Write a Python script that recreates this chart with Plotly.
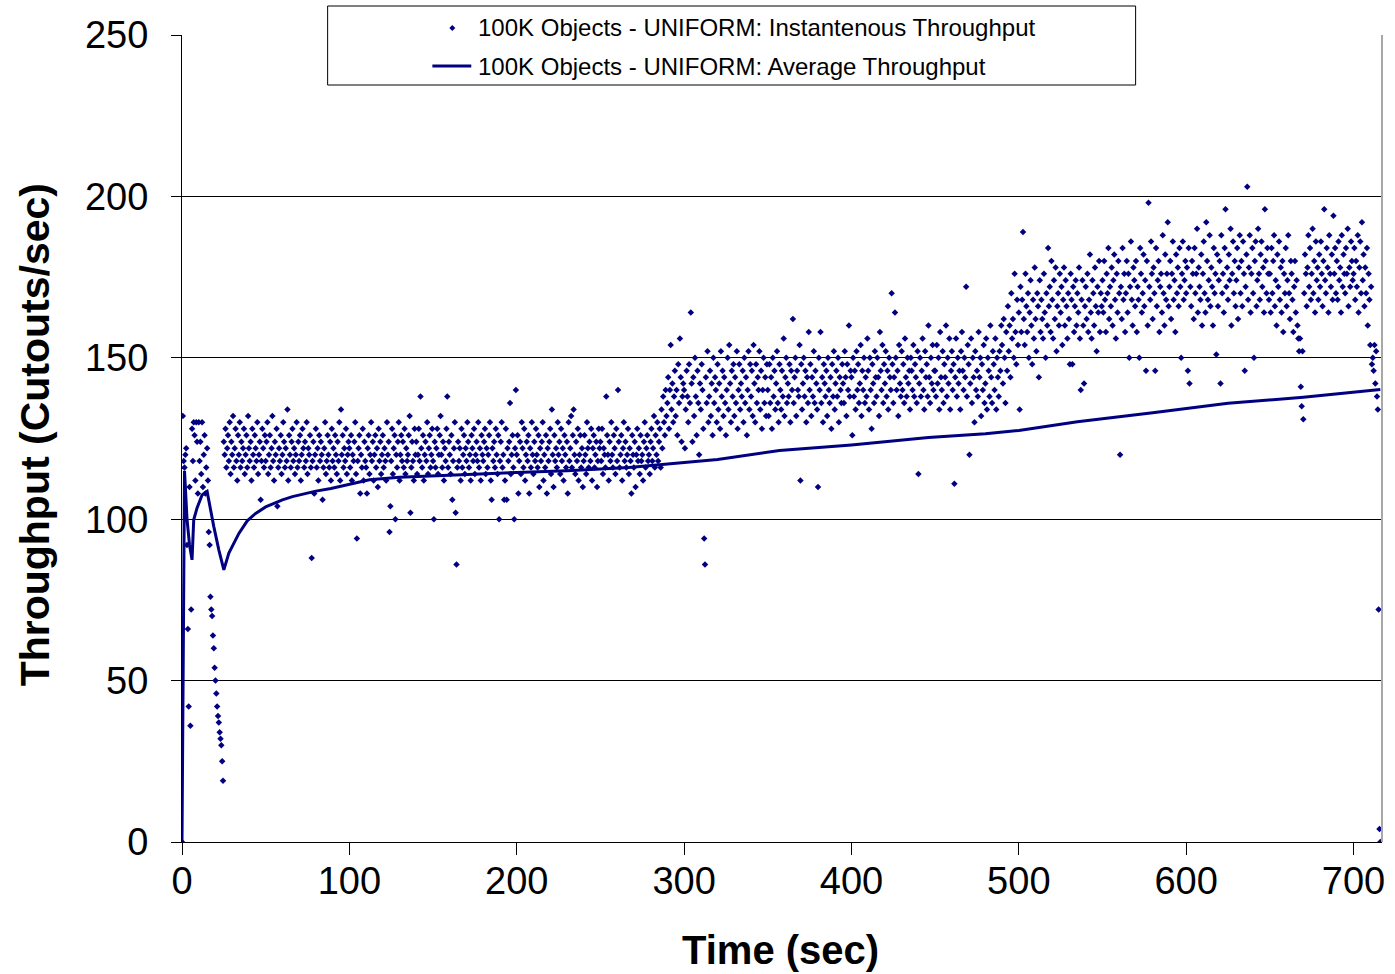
import plotly.graph_objects as go

# ---------------- data ----------------
SAMPLE_STEP = 0.5  # seconds between instantaneous samples

inst_000_050 = [
    0, 132, 118, 116, 120, 122, 92, 66, 42, 110,
    36, 72, 128, 118, 130, 126, 112, 130, 124, 108,
    130, 118, 124, 114, 130, 110, 120, 126, 108, 116,
    122, 112, 96, 92, 76, 72, 70, 64, 60, 54,
    50, 46, 42, 39, 37, 34, 32, 30, 25, 19,
    124, 120, 128, 116, 122, 126, 118, 130, 114, 124,
    120, 132, 116, 122, 128, 118, 112, 126, 120, 130,
    116, 124, 118, 122, 128, 114, 120, 126, 116, 132,
    122, 118, 124, 112, 128, 120, 116, 126, 122, 118,
    130, 114, 120, 124, 106, 118, 128, 122, 116, 126]
inst_050_100 = [
    118, 124, 130, 114, 120, 126, 116, 122, 132, 118,
    112, 124, 120, 128, 104, 116, 122, 118, 126, 114,
    120, 130, 124, 116, 122, 118, 134, 112, 126, 120,
    116, 124, 128, 118, 122, 114, 120, 130, 116, 124,
    118, 126, 112, 120, 128, 122, 116, 124, 118, 130,
    114, 122, 120, 126, 116, 88, 118, 124, 108, 120,
    128, 116, 122, 112, 126, 118, 124, 120, 106, 116,
    122, 130, 114, 118, 126, 120, 116, 124, 112, 128,
    118, 122, 116, 126, 120, 114, 124, 118, 130, 112,
    134, 120, 126, 116, 122, 118, 128, 114, 120, 124]
inst_100_150 = [
    122, 116, 126, 112, 120, 118, 124, 130, 114, 94,
    118, 122, 126, 108, 120, 116, 128, 112, 124, 118,
    116, 108, 122, 126, 114, 120, 130, 118, 124, 112,
    120, 126, 116, 122, 110, 128, 118, 124, 114, 120,
    126, 116, 122, 118, 112, 130, 120, 124, 96, 104,
    118, 128, 114, 122, 126, 100, 120, 116, 124, 130,
    112, 120, 126, 118, 124, 116, 128, 114, 122, 118,
    120, 126, 132, 102, 116, 124, 118, 112, 128, 120,
    124, 114, 120, 128, 118, 138, 122, 116, 126, 112,
    120, 124, 118, 130, 114, 122, 126, 116, 120, 128]
inst_150_200 = [
    118, 100, 124, 116, 122, 128, 114, 120, 126, 132,
    120, 116, 124, 112, 122, 118, 128, 138, 116, 124,
    120, 114, 126, 106, 118, 122, 130, 102, 86, 116,
    124, 118, 122, 112, 128, 116, 120, 126, 114, 122,
    118, 130, 124, 116, 120, 112, 126, 122, 118, 128,
    114, 120, 124, 118, 130, 116, 122, 112, 126, 120,
    118, 124, 128, 114, 122, 116, 120, 126, 130, 112,
    106, 122, 118, 124, 116, 128, 120, 114, 126, 100,
    118, 124, 130, 116, 120, 106, 112, 128, 106, 122,
    118, 124, 136, 114, 120, 126, 116, 100, 122, 140]
inst_200_250 = [
    120, 126, 108, 118, 124, 114, 130, 122, 116, 128,
    112, 120, 124, 118, 126, 108, 122, 116, 130, 120,
    114, 124, 118, 128, 120, 116, 126, 110, 122, 118,
    124, 130, 112, 120, 116, 126, 108, 122, 118, 124,
    128, 114, 134, 120, 110, 126, 118, 122, 116, 130,
    120, 124, 114, 128, 118, 122, 112, 126, 120, 116,
    124, 108, 130, 118, 122, 132, 116, 126, 134, 120,
    114, 124, 118, 128, 112, 120, 126, 116, 122, 110,
    118, 126, 120, 114, 130, 122, 116, 124, 118, 128,
    112, 122, 126, 116, 120, 124, 110, 118, 128, 122]
inst_250_300 = [
    124, 118, 128, 114, 122, 120, 116, 138, 126, 120,
    112, 124, 118, 130, 120, 116, 126, 122, 114, 128,
    118, 140, 124, 116, 120, 126, 112, 122, 130, 118,
    124, 116, 120, 128, 114, 122, 118, 108, 126, 120,
    116, 124, 110, 120, 128, 118, 122, 114, 126, 118,
    120, 112, 124, 130, 116, 122, 126, 118, 120, 114,
    124, 128, 118, 122, 132, 116, 126, 120, 130, 118,
    124, 128, 116, 134, 122, 138, 130, 126, 140, 132,
    136, 144, 128, 140, 154, 134, 142, 130, 138, 146,
    132, 140, 126, 148, 136, 156, 144, 124, 138, 142]
inst_300_350 = [
    140, 122, 134, 146, 138, 130, 148, 136, 164, 142,
    124, 144, 132, 150, 138, 126, 146, 136, 120, 142,
    134, 148, 140, 128, 94, 86, 144, 136, 152, 130,
    138, 146, 132, 142, 126, 150, 136, 144, 140, 130,
    148, 134, 142, 128, 152, 138, 146, 132, 144, 136,
    126, 140, 150, 134, 154, 142, 130, 146, 138, 148,
    132, 144, 136, 152, 128, 140, 148, 134, 142, 138,
    146, 130, 150, 136, 144, 126, 140, 152, 134, 148,
    138, 146, 132, 154, 142, 130, 148, 136, 144, 140,
    152, 134, 146, 128, 140, 150, 136, 144, 132, 148]
inst_350_400 = [
    140, 132, 148, 136, 144, 128, 150, 138, 146, 134,
    142, 152, 136, 130, 148, 140, 134, 146, 138, 156,
    132, 144, 150, 136, 142, 138, 148, 130, 146, 140,
    162, 136, 144, 150, 132, 146, 140, 138, 154, 112,
    148, 134, 142, 150, 138, 146, 130, 144, 136, 158,
    140, 148, 132, 144, 138, 152, 136, 146, 142, 134,
    110, 150, 140, 158, 136, 144, 130, 148, 142, 138,
    146, 132, 150, 140, 136, 144, 128, 148, 138, 152,
    134, 142, 146, 138, 150, 130, 144, 140, 136, 148,
    142, 136, 152, 144, 132, 148, 140, 160, 138, 146]
inst_400_450 = [
    144, 126, 150, 138, 146, 134, 152, 140, 148, 136,
    142, 154, 132, 146, 140, 150, 136, 144, 138, 156,
    146, 134, 150, 140, 128, 148, 142, 136, 152, 144,
    138, 150, 144, 132, 158, 146, 140, 154, 136, 148,
    142, 152, 138, 146, 134, 150, 144, 140, 170, 148,
    136, 144, 164, 150, 140, 146, 132, 154, 142, 138,
    152, 140, 148, 136, 156, 144, 138, 150, 142, 146,
    134, 150, 146, 140, 154, 138, 148, 144, 136, 152,
    114, 142, 150, 138, 146, 156, 140, 134, 152, 144,
    148, 138, 160, 144, 136, 150, 142, 154, 140, 146]
inst_450_500 = [
    146, 138, 154, 142, 150, 134, 158, 144, 140, 152,
    136, 148, 144, 160, 138, 150, 142, 156, 134, 146,
    152, 140, 148, 111, 144, 156, 138, 150, 142, 146,
    134, 152, 158, 146, 140, 150, 144, 172, 138, 154,
    148, 120, 142, 156, 136, 150, 144, 130, 152, 140,
    146, 138, 158, 144, 150, 132, 148, 140, 154, 136,
    142, 156, 134, 150, 146, 138, 160, 144, 136, 152,
    148, 140, 156, 134, 150, 144, 138, 152, 146, 160,
    154, 142, 162, 150, 136, 158, 146, 166, 152, 160,
    144, 170, 156, 162, 150, 176, 158, 148, 168, 154]
inst_500_550 = [
    164, 134, 172, 158, 168, 189, 162, 154, 176, 166,
    158, 170, 150, 164, 174, 160, 148, 168, 156, 178,
    162, 152, 170, 166, 144, 174, 158, 168, 162, 156,
    176, 164, 150, 170, 160, 184, 166, 172, 158, 180,
    168, 156, 174, 162, 178, 152, 166, 170, 160, 176,
    164, 172, 154, 168, 178, 160, 174, 166, 156, 170,
    162, 148, 176, 168, 148, 172, 158, 166, 174, 160,
    170, 164, 178, 156, 140, 168, 174, 160, 142, 166,
    172, 162, 176, 158, 168, 182, 164, 156, 174, 170,
    160, 178, 166, 152, 172, 164, 180, 158, 170, 166]
inst_550_600 = [
    174, 164, 180, 168, 158, 176, 170, 184, 162, 172,
    166, 178, 160, 174, 182, 168, 156, 176, 164, 180,
    170, 120, 172, 162, 184, 168, 176, 158, 170, 180,
    164, 176, 150, 172, 186, 168, 160, 178, 174, 166,
    180, 158, 172, 168, 150, 184, 176, 164, 170, 182,
    166, 174, 146, 180, 160, 198, 172, 168, 186, 176,
    162, 178, 170, 146, 184, 166, 174, 180, 158, 172,
    176, 164, 188, 170, 160, 182, 168, 176, 192, 166,
    172, 180, 162, 176, 186, 168, 174, 158, 182, 170,
    178, 166, 184, 172, 150, 176, 186, 168, 174, 180]
inst_600_650 = [
    170, 178, 146, 184, 142, 172, 166, 180, 176, 162,
    184, 170, 176, 190, 164, 178, 172, 168, 182, 160,
    176, 186, 170, 164, 192, 180, 168, 174, 188, 166,
    178, 172, 160, 184, 170, 176, 151, 182, 166, 174,
    180, 142, 188, 170, 176, 164, 184, 196, 172, 178,
    168, 182, 174, 190, 160, 176, 186, 170, 180, 166,
    174, 184, 162, 178, 188, 170, 180, 166, 186, 176,
    146, 172, 182, 203, 168, 178, 188, 164, 176, 184,
    170, 150, 180, 186, 166, 174, 190, 176, 168, 182,
    186, 172, 178, 164, 196, 180, 170, 184, 176, 168]
inst_650_700 = [
    176, 164, 184, 170, 180, 188, 166, 174, 160, 182,
    172, 186, 168, 178, 164, 180, 158, 176, 170, 184,
    166, 174, 188, 170, 162, 180, 176, 168, 158, 172,
    180, 164, 174, 160, 156, 152, 156, 141, 135, 152,
    131, 170, 182, 176, 166, 178, 188, 172, 184, 168,
    176, 190, 170, 180, 164, 186, 174, 178, 168, 182,
    172, 186, 176, 166, 180, 196, 174, 170, 184, 178,
    164, 188, 176, 172, 182, 168, 194, 176, 184, 170,
    180, 168, 186, 174, 178, 164, 188, 172, 182, 176,
    170, 184, 176, 190, 166, 178, 172, 186, 180, 174]
inst_700_end = [
    176, 184, 168, 180, 172, 188, 164, 178, 186, 170,
    192, 174, 182, 166, 178, 170, 184, 160, 176, 168,
    154, 172, 148, 150, 146, 154, 142, 152, 138, 134,
    72, 4, 0]

# average throughput curve
avg_t = [0, 1.5, 3, 4.5, 6, 7, 9, 12, 15, 17, 19, 22, 25, 28, 34, 39, 44, 50,
         54, 60, 66, 73, 80, 89, 100, 112, 130, 150, 178, 200, 230, 267, 290,
         320, 357, 400, 446, 480, 500, 535, 580, 625, 670, 700, 716]
avg_y = [0, 115, 100, 92, 87.4, 99.8, 103.5, 107.5, 108.6, 103, 97.7, 90.5,
         84.3, 89.5, 95.6, 99.5, 101.8, 103.8, 104.7, 106, 107, 107.9, 108.7,
         109.5, 110.8, 112.2, 113, 113.5, 114, 114.5, 115, 116, 117, 118.5,
         121.3, 123, 125.3, 126.5, 127.5, 130.2, 133, 135.9, 137.8, 139.3, 140.2]

y_ticks = [0, 50, 100, 150, 200, 250]
x_ticks = [0, 100, 200, 300, 400, 500, 600, 700]

inst_name = "100K Objects - UNIFORM: Instantenous Throughput"
avg_name = "100K Objects - UNIFORM: Average Throughput"
x_title = "Time (sec)"
y_title = "Throughput (Cutouts/sec)"

# ---------------- build ----------------
inst_y = (inst_000_050 + inst_050_100 + inst_100_150 + inst_150_200 +
          inst_200_250 + inst_250_300 + inst_300_350 + inst_350_400 +
          inst_400_450 + inst_450_500 + inst_500_550 + inst_550_600 +
          inst_600_650 + inst_650_700 + inst_700_end)
inst_t = [i * SAMPLE_STEP for i in range(len(inst_y))]

NAVY = "#000080"
FONT = "Arial, 'Liberation Sans', Helvetica, sans-serif"

W, H = 1395, 974
L, R, T, B = 182, 10, 35, 132
PW, PH = W - L - R, H - T - B


def px(xp):
    return (xp - L) / PW


def py(yp):
    return (H - B - yp) / PH


fig = go.Figure()
fig.add_trace(go.Scatter(
    x=inst_t, y=inst_y, mode="markers", name=inst_name,
    marker=dict(symbol="diamond", size=5, color=NAVY, line=dict(width=0)),
    showlegend=False, cliponaxis=True))
fig.add_trace(go.Scatter(
    x=avg_t, y=avg_y, mode="lines", name=avg_name,
    line=dict(color=NAVY, width=3), showlegend=False))

fig.update_layout(
    width=W, height=H, autosize=False,
    margin=dict(l=L, r=R, t=T, b=B),
    paper_bgcolor="white", plot_bgcolor="white",
    font=dict(family=FONT, color="black"),
    showlegend=False,
)
fig.update_xaxes(
    range=[0, 717], tickvals=x_ticks, ticktext=[str(v) for v in x_ticks],
    showgrid=False, zeroline=False, showline=True, linecolor="black", linewidth=1,
    ticks="outside", ticklen=12, tickcolor="black", tickwidth=1,
    ticklabelstandoff=-7,
    tickfont=dict(size=38, family=FONT, color="black"))
fig.update_yaxes(
    range=[0, 250], tickvals=y_ticks, ticktext=[str(v) for v in y_ticks],
    showgrid=True, gridcolor="black", gridwidth=1, zeroline=False,
    showline=True, linecolor="black", linewidth=1,
    ticks="outside", ticklen=10, tickcolor="black", tickwidth=1,
    ticklabelstandoff=15,
    tickfont=dict(size=38, family=FONT, color="black"))

shapes = []
# right border of plot area (light gray)
shapes.append(dict(type="line", xref="paper", yref="paper", x0=1, x1=1, y0=0, y1=1,
                   line=dict(color="#a8a8a8", width=2)))
# legend box
shapes.append(dict(type="rect", xref="paper", yref="paper",
                   x0=px(328), x1=px(1138), y0=py(85), y1=py(6),
                   line=dict(color="black", width=1), fillcolor="white", layer="above"))
# legend line sample
shapes.append(dict(type="line", xref="paper", yref="paper",
                   x0=px(433), x1=px(472), y0=py(66), y1=py(66),
                   line=dict(color=NAVY, width=3), layer="above"))
# legend marker sample (small diamond)
cx, cy, d = 453, 28, 3
shapes.append(dict(type="path", xref="paper", yref="paper", layer="above",
                   path=f"M {px(cx-d)},{py(cy)} L {px(cx)},{py(cy-d)} L {px(cx+d)},{py(cy)} L {px(cx)},{py(cy+d)} Z",
                   fillcolor=NAVY, line=dict(color=NAVY, width=0)))

annotations = [
    dict(text=inst_name, xref="paper", yref="paper", x=px(477), y=py(28),
         xanchor="left", yanchor="middle", showarrow=False,
         font=dict(size=24, family=FONT, color="black")),
    dict(text=avg_name, xref="paper", yref="paper", x=px(477), y=py(66),
         xanchor="left", yanchor="middle", showarrow=False,
         font=dict(size=24, family=FONT, color="black")),
    dict(text=f"<b>{x_title}</b>", xref="paper", yref="paper", x=px(782), y=py(950),
         xanchor="center", yanchor="middle", showarrow=False,
         font=dict(size=40, family=FONT, color="black")),
    dict(text=f"<b>{y_title}</b>", xref="paper", yref="paper", x=px(35), y=py(435),
         xanchor="center", yanchor="middle", showarrow=False, textangle=-90,
         font=dict(size=41, family=FONT, color="black")),
]
fig.update_layout(shapes=shapes, annotations=annotations)

fig.write_html("out.html")
